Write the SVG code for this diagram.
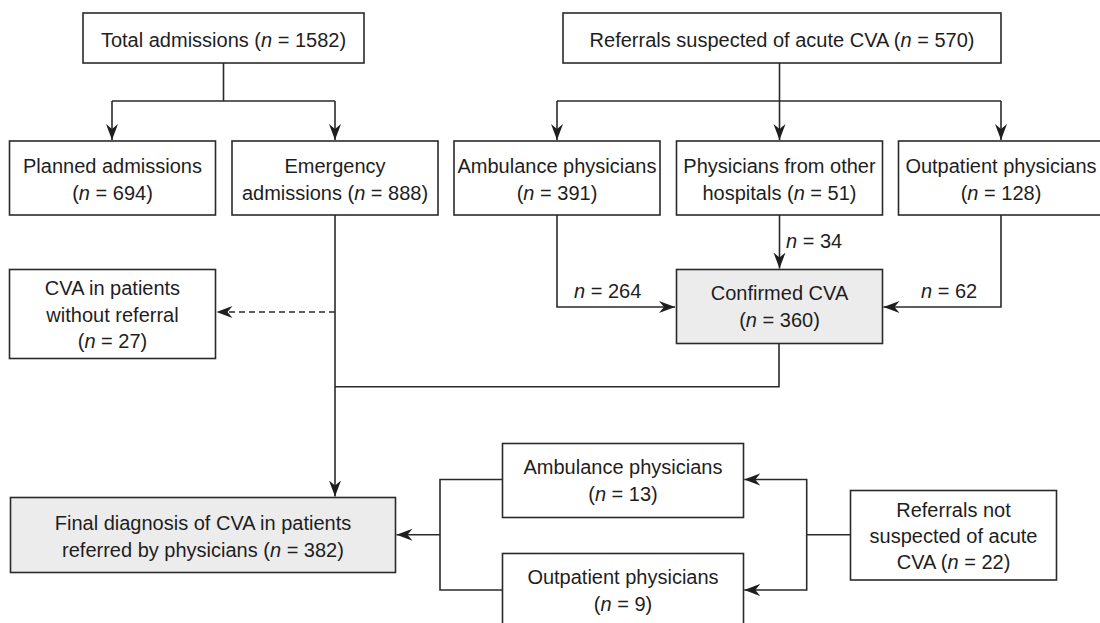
<svg xmlns="http://www.w3.org/2000/svg" width="1100" height="623" viewBox="0 0 1100 623">
<style>
.box{fill:#ffffff;stroke:#2a2a2a;stroke-width:1.6}
.hl{fill:#ececec;stroke:#2a2a2a;stroke-width:1.6}
.t{font-family:"Liberation Sans",Arial,sans-serif;font-size:20px;fill:#1e1e1e;text-anchor:middle}
.lbl{font-family:"Liberation Sans",Arial,sans-serif;font-size:20px;fill:#1e1e1e}
.c{fill:none;stroke:#2a2a2a;stroke-width:1.6}
.d{fill:none;stroke:#2a2a2a;stroke-width:1.6;stroke-dasharray:6 4}
.i{font-style:italic}
</style>
<defs>
<marker id="ah" markerUnits="userSpaceOnUse" markerWidth="18" markerHeight="14" refX="16" refY="6" orient="auto">
<path d="M16,6 L0,0 L5,6 L0,12 Z" fill="#1e1e1e"/>
</marker>
</defs>
<rect width="1100" height="623" fill="#ffffff"/>

<g id="connectors">
<path class="c" d="M223.5,63 V101 M112,101 H335"/>
<path class="c" d="M112,101 V140" marker-end="url(#ah)"/>
<path class="c" d="M335,101 V140" marker-end="url(#ah)"/>
<path class="c" d="M557,101 H1001"/>
<path class="c" d="M779.5,63 V140" marker-end="url(#ah)"/>
<path class="c" d="M557,101 V140" marker-end="url(#ah)"/>
<path class="c" d="M1001,101 V140" marker-end="url(#ah)"/>
<path class="c" d="M557,215 V307 H675" marker-end="url(#ah)"/>
<path class="c" d="M779.5,215 V268.5" marker-end="url(#ah)"/>
<path class="c" d="M1001,215 V307 H883.5" marker-end="url(#ah)"/>
<path class="c" d="M335,215 V496.5" marker-end="url(#ah)"/>
<path class="d" d="M335,312 H216.5" marker-end="url(#ah)"/>
<path class="c" d="M779,343.5 V386.7 H335"/>
<path class="c" d="M502,479.5 H440 V590 H502"/>
<path class="c" d="M440,534.8 H396.5" marker-end="url(#ah)"/>
<path class="c" d="M850.5,534.8 H806.7"/>
<path class="c" d="M806.7,534.8 V479.5 H744.3" marker-end="url(#ah)"/>
<path class="c" d="M806.7,534.8 V590 H744.3" marker-end="url(#ah)"/>
<text class="lbl" x="786" y="248"><tspan class="i">n</tspan> = 34</text>
<text class="lbl" x="574" y="298"><tspan class="i">n</tspan> = 264</text>
<text class="lbl" x="921" y="298"><tspan class="i">n</tspan> = 62</text>
</g>

<g id="total">
<rect class="box" x="83" y="13" width="281" height="50"/>
<text class="t" x="223.5" y="46.5">Total admissions (<tspan class="i">n</tspan> = 1582)</text>
</g>
<g id="referrals">
<rect class="box" x="563" y="13" width="438" height="50"/>
<text class="t" x="782" y="46.5">Referrals suspected of acute CVA (<tspan class="i">n</tspan> = 570)</text>
</g>
<g id="planned">
<rect class="box" x="9.5" y="141" width="206" height="74"/>
<text class="t" x="112.5" y="173">Planned admissions</text>
<text class="t" x="112.5" y="199.5">(<tspan class="i">n</tspan> = 694)</text>
</g>
<g id="emergency">
<rect class="box" x="232" y="141" width="206" height="74"/>
<text class="t" x="335" y="173">Emergency</text>
<text class="t" x="335" y="199.5">admissions (<tspan class="i">n</tspan> = 888)</text>
</g>
<g id="ambulance">
<rect class="box" x="454" y="141" width="206" height="74"/>
<text class="t" x="557" y="173">Ambulance physicians</text>
<text class="t" x="557" y="199.5">(<tspan class="i">n</tspan> = 391)</text>
</g>
<g id="other">
<rect class="box" x="676.5" y="141" width="206" height="74"/>
<text class="t" x="779.5" y="173">Physicians from other</text>
<text class="t" x="779.5" y="199.5">hospitals (<tspan class="i">n</tspan> = 51)</text>
</g>
<g id="outpatient">
<rect class="box" x="898.5" y="141" width="206" height="74"/>
<text class="t" x="1001" y="173">Outpatient physicians</text>
<text class="t" x="1001" y="199.5">(<tspan class="i">n</tspan> = 128)</text>
</g>
<g id="confirmed">
<rect class="hl" x="676.5" y="269.5" width="206" height="74"/>
<text class="t" x="779.5" y="300">Confirmed CVA</text>
<text class="t" x="779.5" y="326.5">(<tspan class="i">n</tspan> = 360)</text>
</g>
<g id="noreferral">
<rect class="box" x="9.5" y="269.5" width="206" height="89"/>
<text class="t" x="112.5" y="295">CVA in patients</text>
<text class="t" x="112.5" y="321.5">without referral</text>
<text class="t" x="112.5" y="348">(<tspan class="i">n</tspan> = 27)</text>
</g>
<g id="final">
<rect class="hl" x="10.5" y="497.5" width="385" height="75"/>
<text class="t" x="203" y="530">Final diagnosis of CVA in patients</text>
<text class="t" x="203" y="556.5">referred by physicians (<tspan class="i">n</tspan> = 382)</text>
</g>
<g id="amb13">
<rect class="box" x="502.5" y="443.5" width="241" height="74"/>
<text class="t" x="623" y="474">Ambulance physicians</text>
<text class="t" x="623" y="500.5">(<tspan class="i">n</tspan> = 13)</text>
</g>
<g id="out9">
<rect class="box" x="502.5" y="553.5" width="241" height="74"/>
<text class="t" x="623" y="584">Outpatient physicians</text>
<text class="t" x="623" y="610.5">(<tspan class="i">n</tspan> = 9)</text>
</g>
<g id="notsuspected">
<rect class="box" x="850.5" y="490.5" width="206" height="89.5"/>
<text class="t" x="953.5" y="516.5">Referrals not</text>
<text class="t" x="953.5" y="542.5">suspected of acute</text>
<text class="t" x="953.5" y="569">CVA (<tspan class="i">n</tspan> = 22)</text>
</g>
</svg>
